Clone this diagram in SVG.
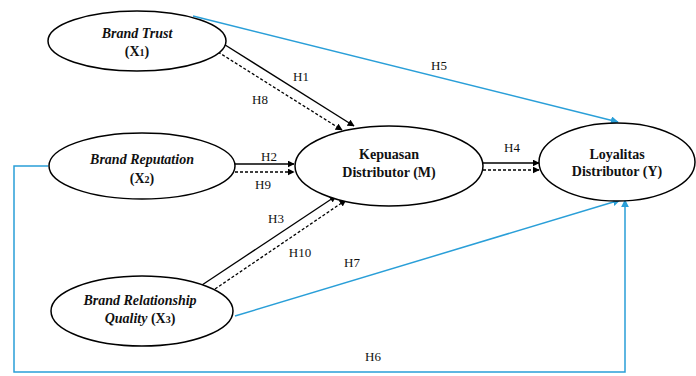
<svg xmlns="http://www.w3.org/2000/svg" width="696" height="376" viewBox="0 0 696 376">
<style>
.node ellipse{fill:#fff;stroke:#000;stroke-width:1.5}
.t{font-family:"Liberation Serif",serif;font-size:14px;font-weight:bold;text-anchor:middle;fill:#111}
.i{font-style:italic}
.lbl{font-family:"Liberation Serif",serif;font-size:13px;text-anchor:middle;fill:#111}
.s{stroke:#000;stroke-width:1.3;fill:none}
.d{stroke:#000;stroke-width:1.3;fill:none;stroke-dasharray:3,2}
.b{stroke:#2a9fd8;stroke-width:1.5;fill:none}
</style>
<defs>
<marker id="ak" viewBox="0 0 10 10" refX="9" refY="5" markerWidth="7" markerHeight="7" markerUnits="userSpaceOnUse" orient="auto"><path d="M0,0 L10,5 L0,10 z" fill="#000"/></marker>
<marker id="ab" viewBox="0 0 10 10" refX="9" refY="5" markerWidth="8" markerHeight="8" markerUnits="userSpaceOnUse" orient="auto"><path d="M0,0 L10,5 L0,10 z" fill="#2a9fd8"/></marker>
</defs>
<g id="connectors">
<path class="b" d="M193,16 L618,122" marker-end="url(#ab)"/>
<path class="b" d="M235,316 L620,200" marker-end="url(#ab)"/>
<path class="b" d="M48,166 L14,166 L14,372 L625,372 L625,200" marker-end="url(#ab)"/>
<path class="s" d="M222,43 L354,126" marker-end="url(#ak)"/>
<path class="d" d="M218,52 L342,130" marker-end="url(#ak)"/>
<path class="s" d="M235,164 L294,164" marker-end="url(#ak)"/>
<path class="d" d="M235,172 L294,172" marker-end="url(#ak)"/>
<path class="s" d="M202,285 L336,196" marker-end="url(#ak)"/>
<path class="d" d="M215,289 L346,200" marker-end="url(#ak)"/>
<path class="s" d="M483,163 L539,163" marker-end="url(#ak)"/>
<path class="d" d="M483,170 L539,170" marker-end="url(#ak)"/>
<text class="lbl" x="301" y="81">H1</text>
<text class="lbl" x="260" y="104">H8</text>
<text class="lbl" x="269" y="161">H2</text>
<text class="lbl" x="263" y="189">H9</text>
<text class="lbl" x="276" y="223">H3</text>
<text class="lbl" x="300" y="257">H10</text>
<text class="lbl" x="352" y="267">H7</text>
<text class="lbl" x="512" y="152">H4</text>
<text class="lbl" x="439" y="70">H5</text>
<text class="lbl" x="373" y="361">H6</text>
</g>
<g id="brand-trust" class="node">
<ellipse cx="137" cy="41" rx="89" ry="30"/>
<text class="t i" x="137" y="38">Brand Trust</text>
<text class="t" x="137" y="56">(X<tspan font-size="10">1</tspan>)</text>
</g>
<g id="brand-reputation" class="node">
<ellipse cx="142" cy="166" rx="93" ry="33"/>
<text class="t i" x="142" y="164">Brand Reputation</text>
<text class="t" x="142" y="183">(X<tspan font-size="10">2</tspan>)</text>
</g>
<g id="brand-relationship" class="node">
<ellipse cx="142" cy="311" rx="91" ry="35"/>
<text class="t i" x="140" y="305">Brand Relationship</text>
<text class="t" x="140" y="323"><tspan font-style="italic">Quality</tspan> (X<tspan font-size="10">3</tspan>)</text>
</g>
<g id="kepuasan" class="node">
<ellipse cx="389" cy="166" rx="94" ry="40"/>
<text class="t" x="389" y="159">Kepuasan</text>
<text class="t" x="389" y="177">Distributor (M)</text>
</g>
<g id="loyalitas" class="node">
<ellipse cx="617" cy="162" rx="78" ry="39"/>
<text class="t" x="617" y="159">Loyalitas</text>
<text class="t" x="617" y="176">Distributor (Y)</text>
</g>
</svg>
